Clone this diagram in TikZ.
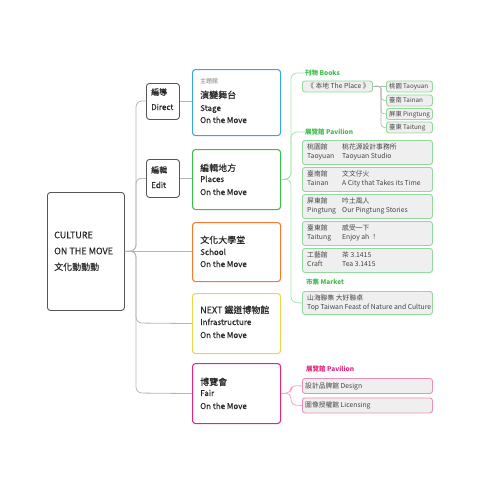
\documentclass[tikz,border=0pt]{standalone}
\usepackage{fontspec}
\setmainfont{Noto Sans CJK TC}
\newfontfamily\medfont{Noto Sans CJK TC}[FakeBold=0.2]
\definecolor{cblue}{HTML}{3BA7E0}
\definecolor{cgreen}{HTML}{3DBE4B}
\definecolor{corange}{HTML}{F47B30}
\definecolor{cyellow}{HTML}{F0D44A}
\definecolor{cmag}{HTML}{E5267C}
\definecolor{lgreen}{HTML}{93D99C}
\definecolor{lgreenline}{HTML}{A8E2AE}
\definecolor{lpink}{HTML}{EE8DBB}
\definecolor{lpinkline}{HTML}{F3A6C9}
\definecolor{cfill}{HTML}{EFEFEF}
\definecolor{conn}{HTML}{B5B5B5}
\definecolor{dbox}{HTML}{555555}
\definecolor{txtc}{HTML}{262626}
\definecolor{txtl}{HTML}{444444}
\begin{document}
\begin{tikzpicture}[x=1pt,y=-1pt,
  box/.style={draw, line width=1.1pt, rounded corners=3pt, anchor=north west, inner sep=0pt},
  greybox/.style={draw=dbox, line width=0.9pt, rounded corners=3pt, anchor=north west, inner sep=0pt},
  cbox/.style={draw=lgreen, fill=cfill, line width=0.9pt, rounded corners=2.5pt, anchor=north west, inner sep=0pt},
  pbox/.style={draw=lpink, fill=cfill, line width=0.9pt, rounded corners=2.5pt, anchor=north west, inner sep=0pt},
  ln/.style={anchor=base west, inner sep=0pt, text=txtc},
  big/.style={ln, font=\medfont\fontsize{9}{10}\selectfont},
  mid/.style={ln, font=\medfont\fontsize{8}{9}\selectfont},
  sm/.style={ln, text=txtl, font=\fontsize{6.8}{8}\selectfont},
  csm/.style={ln, text=txtl, font=\fontsize{6.3}{8}\selectfont},
  lab/.style={ln, font=\bfseries\fontsize{6.5}{8}\selectfont},
  tree/.style={draw=conn, line width=0.8pt, rounded corners=6pt},
  gtree/.style={draw=lgreenline, line width=0.8pt, rounded corners=6pt},
  ptree/.style={draw=lpinkline, line width=0.8pt, rounded corners=5pt},
  ctree/.style={draw=conn, line width=0.7pt, rounded corners=3pt}
]
\useasboundingbox (0,0) rectangle (500,499);

% root
\node[greybox, minimum width=77pt, minimum height=118pt] (root) at (47,192) {};
\node[big] (root1) at (54,238.3) {CULTURE};
\node[big] (root2) at (54,254.3) {ON THE MOVE};
\node[big] (root3) at (54,270.3) {文化動動動};

% direct / edit
\node[greybox, minimum width=33pt, minimum height=36pt] (dir) at (146,83) {};
\node[mid] (dir1) at (151,95) {編導};
\node[mid] (dir2) at (151,110) {Direct};
\node[greybox, minimum width=33pt, minimum height=38pt] (edit) at (146,159) {};
\node[mid] (edit1) at (151,173) {編輯};
\node[mid] (edit2) at (151,188) {Edit};

% main boxes
\node[box, draw=cblue, minimum width=88pt, minimum height=66pt] (stage) at (192,69) {};
\node[ln, text=gray, font=\fontsize{6}{7}\selectfont] (stage0) at (200,83.2) {主題館};
\node[big] (stage1) at (200,98.3) {演變舞台};
\node[mid] (stage2) at (200,111) {Stage};
\node[mid] (stage3) at (200,123) {On the Move};

\node[box, draw=cgreen, minimum width=88pt, minimum height=60pt] (places) at (192,149) {};
\node[big] (places1) at (200,171.3) {編輯地方};
\node[mid] (places2) at (200,182) {Places};
\node[mid] (places3) at (200,195) {On the Move};

\node[box, draw=corange, minimum width=88pt, minimum height=59pt] (school) at (192,222) {};
\node[big] (school1) at (200,243.3) {文化大學堂};
\node[mid] (school2) at (200,255) {School};
\node[mid] (school3) at (200,267) {On the Move};

\node[box, draw=cyellow, minimum width=88pt, minimum height=60pt] (next) at (192,293) {};
\node[big] (next1) at (200,313.3) {NEXT 鐵道博物館};
\node[mid] (next2) at (200,325) {Infrastructure};
\node[mid] (next3) at (200,338) {On the Move};

\node[box, draw=cmag, minimum width=88pt, minimum height=60pt] (fair) at (192,363) {};
\node[big] (fair1) at (200,385.3) {博覽會};
\node[mid] (fair2) at (200,396) {Fair};
\node[mid] (fair3) at (200,409) {On the Move};

% gray tree
\draw[tree] (root.east) -- (136,251) -- (136,101) -- (dir.west |- 0,101);
\draw[tree] (root.east) -- (136,251) -- (136,178) -- (edit.west);
\draw[tree] (root.east) -- (school.west |- root.east);
\draw[tree] (root.east) -- (136,251) -- (136,323) -- (next.west);
\draw[tree] (root.east) -- (136,251) -- (136,393) -- (fair.west);
\draw[draw=conn, line width=0.8pt] (dir.east |- 0,101) -- (stage.west |- 0,101);
\draw[draw=conn, line width=0.8pt] (edit.east) -- (places.west |- edit.east);

% Places children
\node[lab, text=cgreen] (lbooks) at (305,75.4) {刊物 Books};
\node[lab, text=cgreen] (lpav) at (305,134.4) {展覽館 Pavilion};
\node[lab, text=cgreen] (lmarket) at (306,284.4) {市集 Market};

\node[cbox, minimum width=70pt, minimum height=11pt] (books) at (302,80.5) {};
\node[sm] (books1) at (307,88.5) {《 本地 The Place 》};

\node[cbox, minimum width=46pt, minimum height=11pt] (tao) at (386,80.5) {};
\node[csm] (tao1) at (389,88.5) {桃園 Taoyuan};
\node[cbox, minimum width=46pt, minimum height=11pt] (tai) at (386,94.5) {};
\node[csm] (tai1) at (389,102.5) {臺南 Tainan};
\node[cbox, minimum width=46pt, minimum height=11pt] (pin) at (386,108) {};
\node[csm] (pin1) at (389,116) {屏東 Pingtung};
\node[cbox, minimum width=46pt, minimum height=11pt] (tat) at (386,121.5) {};
\node[csm] (tat1) at (389,129.5) {臺東 Taitung};

\draw[ctree] (books.east) -- (tao.west);
\draw[ctree] (books.east) -- (381,86) -- (381,100) -- (tai.west);
\draw[ctree] (books.east) -- (381,86) -- (381,113.5) -- (pin.west);
\draw[ctree] (books.east) -- (381,86) -- (381,127) -- (tat.west);

\node[cbox, minimum width=130pt, minimum height=24pt] (p1) at (302,140) {};
\node[sm] (p1a) at (307,149.5) {桃園館};
\node[sm] (p1b) at (342,149.5) {桃花源設計事務所};
\node[sm] (p1c) at (307,158.5) {Taoyuan};
\node[sm] (p1d) at (342,158.5) {Taoyuan Studio};

\node[cbox, minimum width=130pt, minimum height=24pt] (p2) at (302,167) {};
\node[sm] (p2a) at (307,176.5) {臺南館};
\node[sm] (p2b) at (342,176.5) {文文仔火};
\node[sm] (p2c) at (307,185.5) {Tainan};
\node[sm] (p2d) at (342,185.5) {A City that Takes its Time};

\node[cbox, minimum width=130pt, minimum height=24pt] (p3) at (302,194) {};
\node[sm] (p3a) at (307,203.5) {屏東館};
\node[sm] (p3b) at (342,203.5) {吟土風人};
\node[sm] (p3c) at (307,212.5) {Pingtung};
\node[sm] (p3d) at (342,212.5) {Our Pingtung Stories};

\node[cbox, minimum width=130pt, minimum height=24pt] (p4) at (302,221) {};
\node[sm] (p4a) at (307,230.5) {臺東館};
\node[sm] (p4b) at (342,230.5) {感受一下};
\node[sm] (p4c) at (307,239.5) {Taitung};
\node[sm] (p4d) at (342,239.5) {Enjoy ah ！};

\node[cbox, minimum width=130pt, minimum height=24pt] (p5) at (302,248) {};
\node[sm] (p5a) at (307,257.5) {工藝館};
\node[sm] (p5b) at (342,257.5) {茶 3.1415};
\node[sm] (p5c) at (307,266.5) {Craft};
\node[sm] (p5d) at (342,266.5) {Tea 3.1415};

\node[cbox, minimum width=130pt, minimum height=23pt] (mk) at (302,291) {};
\node[sm] (mk1) at (307,300.5) {山海聯集 大好聯桌};
\node[sm] (mk2) at (307,309.5) {Top Taiwan Feast of Nature and Culture};

\draw[gtree] (places.east) -- (291,179) -- (291,73) -- (lbooks.west |- 0,73);
\draw[gtree] (places.east) -- (291,179) -- (291,132) -- (lpav.west |- 0,132);
\draw[gtree] (places.east) -- (291,179) -- (291,302.5) -- (mk.west);

% Fair children
\node[lab, text=cmag] (lfpav) at (306,371.4) {展覽館 Pavilion};
\node[pbox, minimum width=130pt, minimum height=15pt] (f1) at (302,378) {};
\node[sm] (f1a) at (305,388.2) {設計品牌館 Design};
\node[pbox, minimum width=130pt, minimum height=15pt] (f2) at (302,397.5) {};
\node[sm] (f2a) at (305,407.7) {圖像授權館 Licensing};
\draw[ptree] (fair.east) -- (291,393) -- (291,385.5) -- (f1.west);
\draw[ptree] (fair.east) -- (291,393) -- (291,405) -- (f2.west);
\end{tikzpicture}
\end{document}
